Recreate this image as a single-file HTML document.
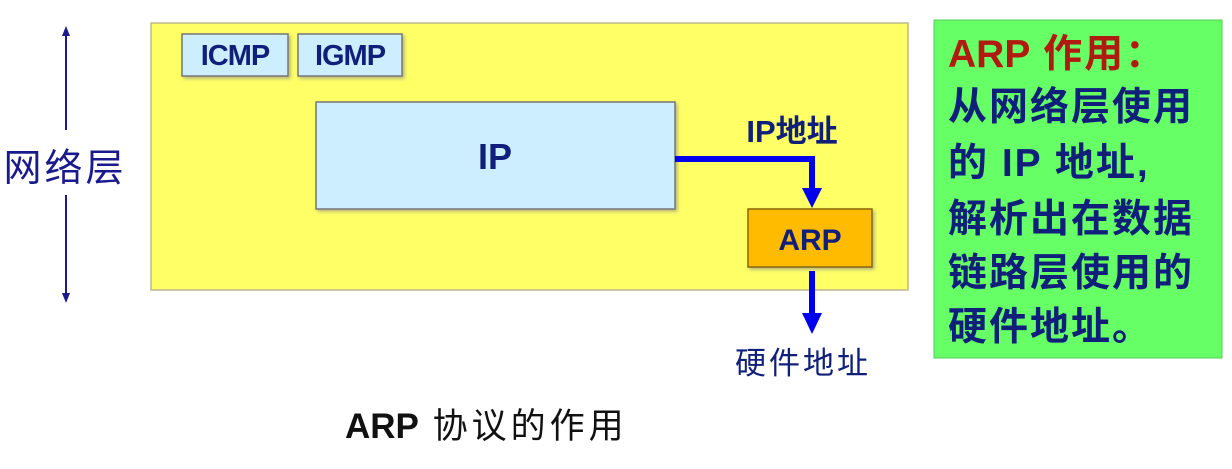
<!DOCTYPE html>
<html><head><meta charset="utf-8"><style>
body{margin:0;background:#fff}
svg text{font-family:"Liberation Sans","Noto Sans CJK SC",sans-serif;font-weight:bold}
</style></head><body>
<svg width="1232" height="464" viewBox="0 0 1232 464" xmlns="http://www.w3.org/2000/svg">
<defs>
<filter id="sh" x="-10%" y="-10%" width="130%" height="130%"><feDropShadow dx="2" dy="2" stdDeviation="1.5" flood-color="#888" flood-opacity="0.6"/></filter>
</defs>
<line x1="66" y1="32" x2="66" y2="130" stroke="#1a1a8c" stroke-width="2"/>
<line x1="66" y1="195" x2="66" y2="298" stroke="#1a1a8c" stroke-width="2"/>
<polygon points="66,26 62,36 70,36" fill="#1a1a8c"/>
<polygon points="66,303 62,293 70,293" fill="#1a1a8c"/>
<text x="65" y="181" font-size="38" fill="#1a1a8c" text-anchor="middle" letter-spacing="3" style="font-weight:normal">网络层</text>
<rect x="151" y="23" width="757" height="267" fill="#ffff66" stroke="#bdb88a" stroke-width="1.5"/>
<rect x="182" y="34" width="106" height="42" fill="#cceeff" stroke="#777" stroke-width="1.5" filter="url(#sh)"/>
<text x="235" y="65" font-size="29" fill="#10207a" text-anchor="middle" letter-spacing="-1">ICMP</text>
<rect x="298" y="34" width="104" height="42" fill="#cceeff" stroke="#777" stroke-width="1.5" filter="url(#sh)"/>
<text x="350" y="65" font-size="29" fill="#10207a" text-anchor="middle" letter-spacing="-1">IGMP</text>
<rect x="316" y="102" width="359" height="107" fill="#cceeff" stroke="#777" stroke-width="1.5" filter="url(#sh)"/>
<text x="495" y="169" font-size="36" fill="#10207a" text-anchor="middle">IP</text>
<polyline points="675,159 812,159 812,190" fill="none" stroke="#0000ee" stroke-width="6"/>
<polygon points="802,188 822,188 812,208" fill="#0000ee"/>
<text x="792" y="142" font-size="31" fill="#10207a" text-anchor="middle">IP地址</text>
<rect x="748" y="209" width="124" height="58" fill="#ffbb00" stroke="#886600" stroke-width="1.5" filter="url(#sh)"/>
<text x="810" y="250" font-size="30" fill="#10207a" text-anchor="middle">ARP</text>
<line x1="812" y1="271" x2="812" y2="315" stroke="#0000ee" stroke-width="6"/>
<polygon points="802,313 822,313 812,334" fill="#0000ee"/>
<text x="803" y="374" font-size="31" fill="#10207a" text-anchor="middle" letter-spacing="3" style="font-weight:normal">硬件地址</text>
<text x="345" y="438" font-size="35" fill="#111" style="font-weight:normal"><tspan font-weight="bold">ARP</tspan><tspan letter-spacing="4"> 协议的作用</tspan></text>
<rect x="934" y="20" width="288" height="338" fill="#66ff66" stroke="#55cc55" stroke-width="1"/>
<g font-size="39" fill="#10207a" letter-spacing="2">
<text x="948" y="67" fill="#b01a10"><tspan letter-spacing="0">ARP</tspan> 作用：</text>
<text x="948" y="120">从网络层使用</text>
<text x="948" y="176">的 IP 地址,</text>
<text x="948" y="232">解析出在数据</text>
<text x="948" y="286">链路层使用的</text>
<text x="948" y="340">硬件地址。</text>
</g>
</svg>
</body></html>
